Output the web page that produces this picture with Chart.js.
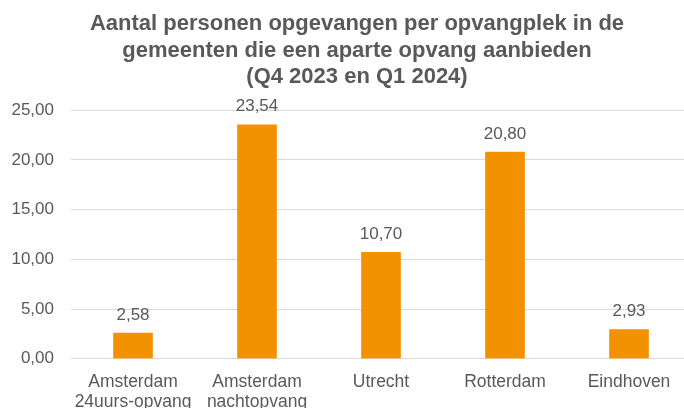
<!DOCTYPE html>
<html>
<head>
<meta charset="utf-8">
<script src="https://cdn.jsdelivr.net/npm/chart.js@4"></script>
<style>
    html, body { margin: 0; padding: 0; overflow: hidden; background: #fff; }
    #wrap { width: 714px; height: 425px; }
</style>
</head>
<body>
<div id="wrap"><canvas id="opvang_chart"></canvas></div>
<script>
const titleLines = [
    "Aantal personen opgevangen per opvangplek in de",
    "gemeenten die een aparte opvang aanbieden",
    "(Q4 2023 en Q1 2024)"
]
const gemeenten = [
    ["Amsterdam", "24uurs-opvang"],
    ["Amsterdam", "nachtopvang"],
    "Utrecht",
    "Rotterdam",
    "Eindhoven"
]
const personenPerPlek = [2.58, 23.54, 10.70, 20.80, 2.93]
const yTicks = [0, 5, 10, 15, 20, 25]

const grijs = '#595959'
const oranje = '#F39200'

function komma(v) {
    return v.toFixed(2).replace('.', ',')
}

// draws the value above each bar, using the bar positions from chart.js
const valueLabels = {
    id: 'valueLabels',
    afterDatasetsDraw(chart) {
        const ctx = chart.ctx
        const meta = chart.getDatasetMeta(0)
        ctx.save()
        ctx.font = '17px "Liberation Sans", Arial, sans-serif'
        ctx.fillStyle = grijs
        ctx.textAlign = 'center'
        ctx.textBaseline = 'middle'
        meta.data.forEach((bar, i) => {
            ctx.fillText(komma(personenPerPlek[i]), bar.x, bar.y - 18)
        })
        ctx.restore()
    }
}

const data = {
    labels: gemeenten,
    datasets: [{
        data: personenPerPlek,
        backgroundColor: oranje,
        barThickness: 39
    }]
}

const config = {
    type: 'bar',
    data: data,
    plugins: [valueLabels],
    options: {
        responsive: true,
        maintainAspectRatio: false,
        animation: false,
        layout: { padding: 0 },
        plugins: {
            legend: { display: false },
            tooltip: { enabled: false },
            title: {
                display: true,
                text: titleLines,
                color: grijs,
                font: { family: '"Liberation Sans", Arial, sans-serif', size: 22, weight: 'bold', lineHeight: 1.2 },
                padding: { top: 11, bottom: 20 }
            }
        },
        scales: {
            x: {
                grid: { display: false, drawTicks: false },
                border: { display: false },
                ticks: {
                    color: grijs,
                    padding: 13,
                    maxRotation: 0,
                    autoSkip: false,
                    font: { family: '"Liberation Sans", Arial, sans-serif', size: 17.5, lineHeight: 1.15 }
                }
            },
            y: {
                min: 0,
                max: 25,
                afterBuildTicks(scale) {
                    scale.ticks = yTicks.map(v => ({ value: v }))
                },
                afterFit(scale) {
                    scale.width = 71
                },
                grid: { color: '#D9D9D9', lineWidth: 1, drawTicks: false },
                border: { display: false },
                ticks: {
                    color: grijs,
                    padding: 17,
                    font: { family: '"Liberation Sans", Arial, sans-serif', size: 17 },
                    callback: v => komma(v)
                }
            },
            // empty axis on the right, only to keep the plot wider than the page like the original
            rechts: {
                type: 'linear',
                position: 'right',
                grid: { display: false, drawTicks: false },
                border: { display: false },
                ticks: { display: false },
                afterFit(scale) {
                    scale.width = 23
                }
            }
        }
    }
}

new Chart(document.getElementById('opvang_chart'), config)
</script>
</body>
</html>
